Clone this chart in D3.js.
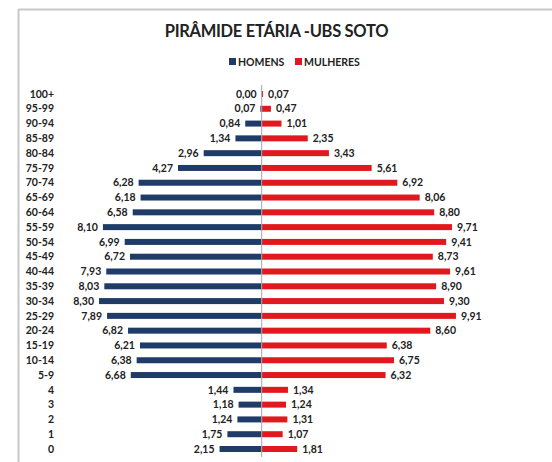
<!DOCTYPE html>
<html>
<head>
<meta charset="utf-8">
<script src="https://cdn.jsdelivr.net/npm/d3@7"></script>
<style>
html,body{margin:0;padding:0;background:#fff;}
svg{display:block;}
text{font-family:Lato,"Open Sans",sans-serif;font-weight:bold;fill:#222;}
</style>
</head>
<body>
<svg id="chart" width="552" height="462"></svg>
<script>
const categories = ["100+","95-99","90-94","85-89","80-84","75-79","70-74","65-69","60-64","55-59","50-54","45-49","40-44","35-39","30-34","25-29","20-24","15-19","10-14","5-9","4","3","2","1","0"];
const homens = [0.00,0.07,0.84,1.34,2.96,4.27,6.28,6.18,6.58,8.10,6.99,6.72,7.93,8.03,8.30,7.89,6.82,6.21,6.38,6.68,1.44,1.18,1.24,1.75,2.15];
const mulheres = [0.07,0.47,1.01,2.35,3.43,5.61,6.92,8.06,8.80,9.71,9.41,8.73,9.61,8.90,9.30,9.91,8.60,6.38,6.75,6.32,1.34,1.24,1.31,1.07,1.81];
const seriesNames = ["HOMENS","MULHERES"];
const title = "PIRÂMIDE ETÁRIA -UBS SOTO";

const colors = {HOMENS:"#1f3c68", MULHERES:"#e0191e"};
const svg = d3.select("#chart");
const cx = 261.7;
const fmt = v => v.toFixed(2).replace(".", ",");

// frame
svg.append("line").attr("x1",18.5).attr("x2",552).attr("y1",9.5).attr("y2",9.5).attr("stroke","#c8c8c8").attr("stroke-width",2);
svg.append("line").attr("x1",18.5).attr("x2",18.5).attr("y1",9).attr("y2",462).attr("stroke","#c8c8c8").attr("stroke-width",2);

// title
svg.append("text").attr("x",276.5).attr("y",37).attr("text-anchor","middle")
  .style("font-size","16.5px").style("letter-spacing","-0.3px").text(title);

// legend
const legend = svg.append("g");
const legX = [229, 295];
seriesNames.forEach((n,i)=>{
  legend.append("rect").attr("x",legX[i]).attr("y",58).attr("width",7).attr("height",7).attr("fill",colors[n]);
  legend.append("text").attr("x",legX[i]+9).attr("y",65.5).style("font-size","10.5px").text(n);
});

const y = d3.scalePoint().domain(categories).range([86.6,456.4]).padding(0.5);
const x = d3.scaleLinear().domain([0,10]).range([0,196]);
const bh = 6;

// bars
svg.append("g").selectAll("rect").data(categories).join("rect")
  .attr("x",(d,i)=>cx - x(homens[i])).attr("y",d=>y(d)-bh/2)
  .attr("width",(d,i)=>x(homens[i])).attr("height",bh).attr("fill",colors.HOMENS);
svg.append("g").selectAll("rect").data(categories).join("rect")
  .attr("x",cx).attr("y",d=>y(d)-bh/2)
  .attr("width",(d,i)=>x(mulheres[i])).attr("height",bh).attr("fill",colors.MULHERES);

// center axis
svg.append("line").attr("x1",cx).attr("x2",cx).attr("y1",85).attr("y2",457).attr("stroke","#a6a6a6").attr("stroke-width",1);

// category labels
svg.append("g").selectAll("text").data(categories).join("text")
  .attr("x",54).attr("y",d=>y(d)).attr("dy","0.35em").attr("text-anchor","end")
  .style("font-size","10.5px").text(d=>d);

// value labels
svg.append("g").selectAll("text").data(categories).join("text")
  .attr("x",(d,i)=>cx - x(homens[i]) - 5).attr("y",d=>y(d)).attr("dy","0.35em").attr("text-anchor","end")
  .style("font-size","10.5px").text((d,i)=>fmt(homens[i]));
svg.append("g").selectAll("text").data(categories).join("text")
  .attr("x",(d,i)=>cx + x(mulheres[i]) + 5).attr("y",d=>y(d)).attr("dy","0.35em").attr("text-anchor","start")
  .style("font-size","10.5px").text((d,i)=>fmt(mulheres[i]));
</script>
</body>
</html>
